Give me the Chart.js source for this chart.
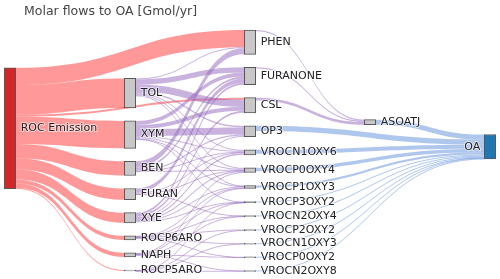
<!DOCTYPE html>
<html lang="en">
<head>
<meta charset="UTF-8">
<title>Molar flows to OA</title>
<script src="https://cdn.jsdelivr.net/npm/chart.js@4"></script>
<style>
  body { margin: 0; background: #fff; }
  .chart-container { position: relative; width: 500px; height: 279px; }
</style>
</head>
<body>
<div class="chart-container"><canvas id="sankey"></canvas></div>
<script>
const chartTitle = 'Molar flows to OA [Gmol/yr]';

// nodes, in the order they are stacked inside each column
const nodeNames = [
  'ROC Emission',
  'TOL', 'XYM', 'BEN', 'FURAN', 'XYE', 'ROCP6ARO', 'NAPH', 'ROCP5ARO',
  'PHEN', 'FURANONE', 'CSL', 'OP3', 'VROCN1OXY6', 'VROCP0OXY4', 'VROCP1OXY3',
  'VROCP3OXY2', 'VROCN2OXY4', 'VROCP2OXY2', 'VROCN1OXY3', 'VROCP0OXY2', 'VROCN2OXY8',
  'ASOATJ',
  'OA'
];

// flows (Gmol/yr)
const linkFrom = [
  'ROC Emission', 'ROC Emission', 'ROC Emission', 'ROC Emission', 'ROC Emission',
  'ROC Emission', 'ROC Emission', 'ROC Emission', 'ROC Emission', 'ROC Emission',
  'TOL', 'TOL', 'TOL', 'TOL', 'TOL', 'TOL', 'TOL',
  'XYM', 'XYM', 'XYM', 'XYM', 'XYM', 'XYM', 'XYM',
  'BEN', 'BEN', 'BEN', 'BEN', 'BEN',
  'FURAN', 'FURAN', 'FURAN', 'FURAN',
  'XYE', 'XYE', 'XYE', 'XYE', 'XYE', 'XYE', 'XYE',
  'ROCP6ARO', 'ROCP6ARO', 'ROCP6ARO', 'ROCP6ARO', 'ROCP6ARO', 'ROCP6ARO',
  'NAPH', 'NAPH', 'NAPH', 'NAPH', 'NAPH',
  'ROCP5ARO', 'ROCP5ARO', 'ROCP5ARO', 'ROCP5ARO',
  'PHEN', 'FURANONE', 'CSL',
  'ASOATJ', 'OP3', 'VROCN1OXY6', 'VROCP0OXY4', 'VROCP1OXY3', 'VROCP3OXY2',
  'VROCN2OXY4', 'VROCP2OXY2', 'VROCN1OXY3', 'VROCP0OXY2', 'VROCN2OXY8'
];
const linkTo = [
  'PHEN', 'TOL', 'CSL', 'XYM', 'BEN', 'FURAN', 'XYE', 'ROCP6ARO', 'NAPH', 'ROCP5ARO',
  'PHEN', 'FURANONE', 'CSL', 'OP3', 'VROCN1OXY6', 'VROCP0OXY4', 'VROCP1OXY3',
  'FURANONE', 'CSL', 'OP3', 'VROCN1OXY6', 'VROCP0OXY4', 'VROCP1OXY3', 'VROCP3OXY2',
  'PHEN', 'FURANONE', 'OP3', 'VROCN1OXY6', 'VROCP0OXY4',
  'FURANONE', 'VROCN1OXY6', 'VROCP0OXY4', 'VROCN2OXY4',
  'FURANONE', 'CSL', 'OP3', 'VROCN1OXY6', 'VROCP0OXY4', 'VROCP1OXY3', 'VROCP3OXY2',
  'VROCP1OXY3', 'VROCP3OXY2', 'VROCN2OXY4', 'VROCP2OXY2', 'VROCN1OXY3', 'VROCP0OXY2',
  'VROCP0OXY4', 'VROCP1OXY3', 'VROCN2OXY4', 'VROCP0OXY2', 'VROCN2OXY8',
  'VROCP3OXY2', 'VROCP2OXY2', 'VROCN1OXY3', 'VROCN2OXY8',
  'ASOATJ', 'ASOATJ', 'ASOATJ',
  'OA', 'OA', 'OA', 'OA', 'OA', 'OA', 'OA', 'OA', 'OA', 'OA', 'OA'
];
const linkValue = [
  17, 29, 2, 27, 14, 11, 10, 4, 4, 1,
  1, 5, 7, 1.5, 1, 1, 0.5,
  4, 4, 7, 1, 1, 0.5, 0.3,
  6, 2, 1.2, 0.5, 0.5,
  4, 1, 0.5, 0.3,
  2, 2, 1, 1.5, 1, 1, 0.3,
  0.5, 0.2, 0.4, 0.4, 0.3, 0.3,
  0.6, 0.5, 0.3, 0.4, 0.3,
  0.2, 0.3, 0.2, 0.2,
  1.2, 1, 2.8,
  5, 5, 4, 3.5, 2.2, 1, 1, 0.7, 0.5, 0.7, 0.5
];

const NODE_W = 11.4;        // px
const NODE_PAD = 13 / 241;  // share of the plot height
const ITERATIONS = 40;
const FONT = '"DejaVu Sans", Verdana, sans-serif';

// simple sankey layout in y units 0..1 (top..bottom)
function buildLayout() {
    const nodes = nodeNames.map((name, index) => ({ name, index, ins: [], outs: [], col: 0 }));
    const byName = Object.fromEntries(nodes.map(n => [n.name, n]));
    const links = linkFrom.map((from, k) => ({ source: byName[from], target: byName[linkTo[k]], value: linkValue[k] }));
    links.forEach(l => { l.source.outs.push(l); l.target.ins.push(l); });

    // column = longest path from the emission node
    for (let pass = 0; pass < nodes.length; pass++) {
        links.forEach(l => { l.target.col = Math.max(l.target.col, l.source.col + 1); });
    }
    const total = ls => ls.reduce((s, l) => s + l.value, 0);
    nodes.forEach(n => { n.value = Math.max(total(n.ins), total(n.outs)); });

    const nCols = Math.max(...nodes.map(n => n.col)) + 1;
    const columns = Array.from({ length: nCols }, (_, c) => nodes.filter(n => n.col === c));
    const ky = Math.min(...columns.map(c =>
        (1 - (c.length - 1) * NODE_PAD) / c.reduce((s, n) => s + n.value, 0)));
    links.forEach(l => { l.width = l.value * ky; });

    columns.forEach(c => {
        let y = 0;
        c.forEach(n => { n.y0 = y; n.y1 = y + n.value * ky; y = n.y1 + NODE_PAD; });
        const shift = (1 - (y - NODE_PAD)) / 2;
        c.forEach(n => { n.y0 += shift; n.y1 += shift; });
    });

    const slots = () => {
        nodes.forEach(n => {
            let y = n.y0;
            n.outs.slice().sort((a, b) => a.target.y0 - b.target.y0 || a.target.index - b.target.index)
                .forEach(l => { l.sy = y; y += l.width; });
            y = n.y0;
            n.ins.slice().sort((a, b) => a.source.y0 - b.source.y0 || a.source.index - b.source.index)
                .forEach(l => { l.ty = y; y += l.width; });
        });
    };
    // move a node so its links run as flat as possible; big flows pull hardest
    const relax = n => {
        let sum = 0, w = 0;
        n.outs.forEach(l => { const k = l.value * l.value; sum += (l.ty - (l.sy - n.y0)) * k; w += k; });
        n.ins.forEach(l => { const k = l.value * l.value; sum += (l.sy - (l.ty - n.y0)) * k; w += k; });
        if (w > 0) {
            const h = n.y1 - n.y0;
            n.y0 = sum / w;
            n.y1 = n.y0 + h;
        }
    };
    const resolve = c => {
        let y = 0;
        c.forEach(n => { if (n.y0 < y) { n.y1 += y - n.y0; n.y0 = y; } y = n.y1 + NODE_PAD; });
        y = 1;
        for (let i = c.length - 1; i >= 0; i--) {
            const n = c[i];
            if (n.y1 > y) { n.y0 -= n.y1 - y; n.y1 = y; }
            y = n.y0 - NODE_PAD;
        }
    };

    slots();
    for (let it = 0; it < ITERATIONS; it++) {
        const order = it % 2 ? columns.slice().reverse() : columns;
        order.forEach(c => { c.forEach(relax); resolve(c); slots(); });
    }
    return { nodes, links, lastCol: nCols - 1 };
}

const layout = buildLayout();

function linkColor(l) {
    if (l.source.col === 0) return 'rgba(255, 0, 0, 0.4)';
    if (l.target.col === layout.lastCol) return 'rgba(80, 130, 215, 0.45)';
    return 'rgba(148, 103, 189, 0.5)';
}

const sankeyPlugin = {
    id: 'sankeyLinks',
    beforeDatasetsDraw(chart) {
        const ctx = chart.ctx;
        const x = chart.scales.x, y = chart.scales.y;
        ctx.save();
        layout.links.forEach(l => {
            const x0 = x.getPixelForValue(l.source.col) + NODE_W / 2;
            const x1 = x.getPixelForValue(l.target.col) - NODE_W / 2;
            const xm = (x0 + x1) / 2;
            const s0 = y.getPixelForValue(l.sy);
            const t0 = y.getPixelForValue(l.ty);
            let w = y.getPixelForValue(l.sy + l.width) - s0;
            w = Math.max(w, 1);
            ctx.fillStyle = linkColor(l);
            ctx.beginPath();
            ctx.moveTo(x0, s0);
            ctx.bezierCurveTo(xm, s0, xm, t0, x1, t0);
            ctx.lineTo(x1, t0 + w);
            ctx.bezierCurveTo(xm, t0 + w, xm, s0 + w, x0, s0 + w);
            ctx.closePath();
            ctx.fill();
        });
        ctx.restore();
    },
    afterDatasetsDraw(chart) {
        const ctx = chart.ctx;
        const x = chart.scales.x, y = chart.scales.y;
        ctx.save();
        ctx.font = '11px ' + FONT;
        ctx.textBaseline = 'middle';
        ctx.lineJoin = 'round';
        layout.nodes.forEach(n => {
            const cy = (y.getPixelForValue(n.y0) + y.getPixelForValue(n.y1)) / 2;
            const last = n.col === layout.lastCol;
            const tx = x.getPixelForValue(n.col) + (last ? -NODE_W / 2 - 4 : NODE_W / 2 + 5);
            ctx.textAlign = last ? 'right' : 'left';
            ctx.strokeStyle = 'rgba(255, 255, 255, 0.6)';
            ctx.lineWidth = 2;
            ctx.strokeText(n.name, tx, cy);
            ctx.fillStyle = '#222';
            ctx.fillText(n.name, tx, cy);
        });
        ctx.font = '12.5px ' + FONT;
        ctx.textBaseline = 'alphabetic';
        ctx.textAlign = 'left';
        ctx.fillStyle = '#444';
        ctx.fillText(chartTitle, 24, 15);
        ctx.restore();
    }
};

const ctx = document.getElementById('sankey').getContext('2d');
new Chart(ctx, {
    type: 'bar',
    data: {
        datasets: [{
            data: layout.nodes.map(n => ({ x: n.col, y: [n.y0, n.y1] })),
            backgroundColor: layout.nodes.map(n =>
                n.col === 0 ? '#d62728' : n.col === layout.lastCol ? '#1f77b4' : '#c8c8c8'),
            borderColor: 'rgba(60, 60, 60, 0.85)',
            borderWidth: 1,
            borderSkipped: false,
            barThickness: NODE_W,
            minBarLength: 1,
            clip: false
        }]
    },
    options: {
        responsive: true,
        maintainAspectRatio: false,
        animation: false,
        layout: { padding: { left: 10, right: 10, top: 30, bottom: 8 } },
        scales: {
            x: { type: 'linear', min: 0, max: layout.lastCol, offset: false, display: false },
            y: { min: 0, max: 1, reverse: true, display: false }
        },
        plugins: {
            legend: { display: false },
            tooltip: { enabled: false }
        }
    },
    plugins: [sankeyPlugin]
});
</script>
</body>
</html>
